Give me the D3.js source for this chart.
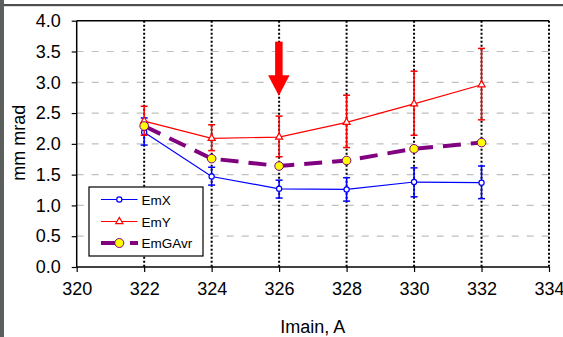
<!DOCTYPE html>
<html>
<head>
<meta charset="utf-8">
<script src="https://cdn.jsdelivr.net/npm/d3@7"></script>
<style>
  html, body { margin: 0; padding: 0; background: #fff; }
  svg { display: block; font-family: "Liberation Sans", Arial, sans-serif; }
</style>
</head>
<body>
<svg id="chart" width="563" height="337"></svg>
<script>
// Beam current values (x categories)
const current = [322, 324, 326, 328, 330, 332];

// Emittance series with error bars
const emX     = [2.19, 1.47, 1.27, 1.26, 1.38, 1.37];
const emXLow  = [1.98, 1.33, 1.12, 1.07, 1.14, 1.11];
const emXHigh = [2.42, 1.62, 1.41, 1.45, 1.61, 1.64];

const emY     = [2.37, 2.09, 2.11, 2.35, 2.65, 2.96];
const emYLow  = [2.14, 1.89, 1.79, 1.94, 2.14, 2.39];
const emYHigh = [2.61, 2.31, 2.45, 2.79, 3.18, 3.55];

const emGAvr  = [2.29, 1.76, 1.64, 1.73, 1.92, 2.02];

// Axis ticks
const xTicks = [320, 322, 324, 326, 328, 330, 332, 334];
const yTicks = [0, 0.5, 1, 1.5, 2, 2.5, 3, 3.5, 4];

// Marked operating point (arrow from top value down to tip value)
const arrowX = 326;
const arrowFrom = 3.66;
const arrowTo = 2.78;

const svg = d3.select("#chart");
const x = d3.scaleLinear().domain([320, 334]).range([76.7, 549]);
const y = d3.scaleLinear().domain([0, 4]).range([267, 20.7]);

// window frame
svg.append("rect").attr("x", 0).attr("y", 0).attr("width", 563).attr("height", 337).attr("fill", "#fff");
svg.append("rect").attr("x", 0).attr("y", 4).attr("width", 563).attr("height", 2.2).attr("fill", "#4d4f4d");
svg.append("rect").attr("x", 0).attr("y", 0).attr("width", 4).attr("height", 337).attr("fill", "#5c605c");

// horizontal dashed gridlines
svg.append("g").selectAll("line")
  .data(yTicks.filter(v => v > 0 && v < 4))
  .join("line")
  .attr("x1", x(320)).attr("x2", x(334))
  .attr("y1", d => y(d)).attr("y2", d => y(d))
  .attr("stroke", "#c0c0c0").attr("stroke-width", 1.2)
  .attr("stroke-dasharray", "7,8");

// top frame line
svg.append("line")
  .attr("x1", x(320)).attr("x2", x(334))
  .attr("y1", y(4)).attr("y2", y(4))
  .attr("stroke", "#000").attr("stroke-width", 1.5);

// vertical dotted gridlines
svg.append("g").selectAll("line")
  .data(xTicks.filter(v => v > 320))
  .join("line")
  .attr("x1", d => x(d)).attr("x2", d => x(d))
  .attr("y1", y(4)).attr("y2", y(0))
  .attr("stroke", "#000").attr("stroke-width", 2)
  .attr("stroke-dasharray", "2,2");

// axes
const xAxis = d3.axisBottom(x).tickValues(xTicks).tickFormat(d3.format("d")).tickSize(5).tickPadding(10);
const gx = svg.append("g").attr("transform", `translate(0,${y(0)})`).call(xAxis);
const yAxis = d3.axisLeft(y).tickValues(yTicks).tickFormat(d3.format(".1f")).tickSize(5).tickPadding(11);
const gy = svg.append("g").attr("transform", `translate(${x(320)},0)`).call(yAxis);
[gx, gy].forEach(g => {
  g.select(".domain").attr("stroke", "#000").attr("stroke-width", 1.5);
  g.selectAll(".tick line").attr("stroke", "#000").attr("stroke-width", 1.2);
  g.selectAll(".tick text").attr("font-size", 18).attr("fill", "#000")
    .attr("font-family", "Liberation Sans, Arial, sans-serif");
});
gy.select(".domain").attr("d", `M0,${y(0)}V${y(4)}`);
gx.select(".domain").attr("d", `M${x(320)},0H${x(334)}`);

// axis titles
svg.append("text")
  .attr("x", x(327)).attr("y", 333)
  .attr("text-anchor", "middle").attr("font-size", 18).attr("fill", "#000")
  .text("Imain, A");
svg.append("text")
  .attr("transform", `translate(25,${(y(0) + y(4)) / 2 - 1}) rotate(-90)`)
  .attr("text-anchor", "middle").attr("font-size", 18).attr("fill", "#000")
  .text("mm mrad");

// error bars
function errorBars(low, high, color) {
  const g = svg.append("g").attr("stroke", color).attr("stroke-width", 1.5);
  current.forEach((c, i) => {
    g.append("line").attr("x1", x(c)).attr("x2", x(c)).attr("y1", y(low[i])).attr("y2", y(high[i]));
    [low[i], high[i]].forEach(v => {
      g.append("line").attr("x1", x(c) - 3.5).attr("x2", x(c) + 3.5).attr("y1", y(v)).attr("y2", y(v));
    });
  });
}

const line = vals => d3.line().x((d, i) => x(current[i])).y(d => y(d))(vals);

// EmX
errorBars(emXLow, emXHigh, "#0000ff");
svg.append("path").attr("d", line(emX)).attr("fill", "none").attr("stroke", "#0000ff").attr("stroke-width", 1.2);
svg.append("g").selectAll("circle").data(emX).join("circle")
  .attr("cx", (d, i) => x(current[i])).attr("cy", d => y(d)).attr("r", 2.6)
  .attr("fill", "#fff").attr("stroke", "#0000ff").attr("stroke-width", 1.2);

// EmY
errorBars(emYLow, emYHigh, "#ff0000");
svg.append("path").attr("d", line(emY)).attr("fill", "none").attr("stroke", "#ff0000").attr("stroke-width", 1.2);
const tri = d3.symbol().type(d3.symbolTriangle).size(22);
svg.append("g").selectAll("path").data(emY).join("path")
  .attr("transform", (d, i) => `translate(${x(current[i])},${y(d)})`)
  .attr("d", tri)
  .attr("fill", "#fff").attr("stroke", "#ff0000").attr("stroke-width", 1.2);

// EmGAvr
svg.append("path").attr("d", line(emGAvr)).attr("fill", "none")
  .attr("stroke", "#800080").attr("stroke-width", 4).attr("stroke-dasharray", "18,10");
svg.append("g").selectAll("circle").data(emGAvr).join("circle")
  .attr("cx", (d, i) => x(current[i])).attr("cy", d => y(d)).attr("r", 4.3)
  .attr("fill", "#ffff00").attr("stroke", "#800080").attr("stroke-width", 1);

// arrow marking the chosen current
const ax = x(arrowX);
const headTop = y(arrowFrom) + (y(arrowTo) - y(arrowFrom)) * 0.62;
svg.append("rect")
  .attr("x", ax - 4).attr("y", y(arrowFrom)).attr("width", 7.5).attr("height", headTop - y(arrowFrom) + 1)
  .attr("fill", "#ff0000");
svg.append("path")
  .attr("d", `M${ax - 11},${headTop}L${ax + 10.5},${headTop}L${ax - 0.3},${y(arrowTo)}Z`)
  .attr("fill", "#ff0000");

// legend
const lg = svg.append("g");
lg.append("rect").attr("x", 89).attr("y", 187).attr("width", 114).attr("height", 69)
  .attr("fill", "#fff").attr("stroke", "#000").attr("stroke-width", 1.2);
const legendRows = [
  { name: "EmX", y: 199.5 },
  { name: "EmY", y: 221.5 },
  { name: "EmGAvr", y: 243 }
];
// EmX entry
lg.append("line").attr("x1", 101).attr("x2", 137.5).attr("y1", legendRows[0].y).attr("y2", legendRows[0].y)
  .attr("stroke", "#0000ff").attr("stroke-width", 1.2);
lg.append("circle").attr("cx", 119.3).attr("cy", legendRows[0].y).attr("r", 2.6)
  .attr("fill", "#fff").attr("stroke", "#0000ff").attr("stroke-width", 1.2);
// EmY entry
lg.append("line").attr("x1", 101).attr("x2", 137.5).attr("y1", legendRows[1].y).attr("y2", legendRows[1].y)
  .attr("stroke", "#ff0000").attr("stroke-width", 1.2);
lg.append("path").attr("transform", `translate(119.3,${legendRows[1].y})`).attr("d", tri)
  .attr("fill", "#fff").attr("stroke", "#ff0000").attr("stroke-width", 1.2);
// EmGAvr entry
lg.append("line").attr("x1", 101).attr("x2", 138).attr("y1", legendRows[2].y).attr("y2", legendRows[2].y)
  .attr("stroke", "#800080").attr("stroke-width", 4).attr("stroke-dasharray", "18,11");
lg.append("circle").attr("cx", 119.3).attr("cy", legendRows[2].y).attr("r", 4.5)
  .attr("fill", "#ffff00").attr("stroke", "#800080").attr("stroke-width", 1);
lg.selectAll("text").data(legendRows).join("text")
  .attr("x", 141.5).attr("y", d => d.y + 5)
  .attr("font-size", 13.5).attr("fill", "#000")
  .text(d => d.name);
</script>
</body>
</html>
